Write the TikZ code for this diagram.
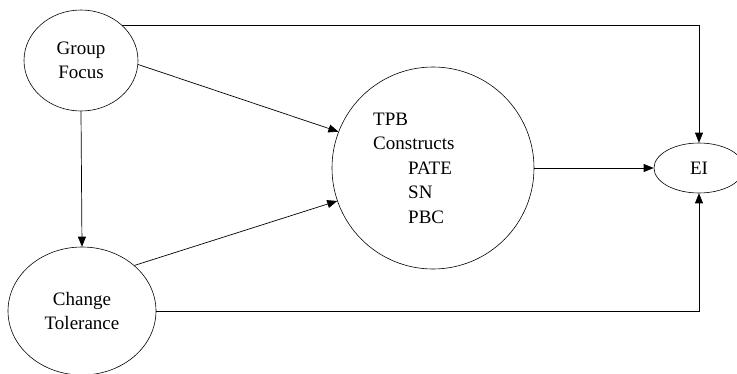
\documentclass[tikz,border=0pt]{standalone}
\usepackage{fontspec}
\setmainfont{Liberation Serif}
\usetikzlibrary{arrows.meta,shapes.geometric}

\tikzset{
  construct/.style={draw, ellipse, inner sep=0pt, line width=0.6pt,
    align=center, font=\fontsize{19}{24}\selectfont},
  link/.style={line width=0.7pt, -{Triangle[length=10pt,width=8pt]}},
  plain/.style={font=\fontsize{19}{24.5}\selectfont, inner sep=0pt}
}

\begin{document}
\begin{tikzpicture}[x=1pt, y=-1pt]
  \useasboundingbox (0,0) rectangle (737,373);

  % latent constructs
  \node[construct, minimum width=114pt, minimum height=101pt] (gf) at (81,60.5) {Group\\Focus};
  \node[construct, minimum width=148pt, minimum height=128pt] (ct) at (82,311) {Change\\Tolerance};
  \node[construct, minimum width=202pt, minimum height=202pt] (tpb) at (433,168) {};
  \node[construct, minimum width=90pt, minimum height=50pt] (ei) at (699,168) {EI};

  % contents of the TPB circle
  \node[plain, anchor=west, align=left] (tpbtext) at (373,168)
    {TPB\\Constructs\\\hspace*{35pt}PATE\\\hspace*{35pt}SN\\\hspace*{35pt}PBC};

  % paths
  \draw[link] (gf.-4.5) -- (tpb.159.3);
  \draw[link] (ct.41) -- (tpb.199.7);
  \draw[link] (gf.south) -- (ct.north);
  \draw[link] (tpb.east) -- (ei.west);
  \draw[link] (gf.41) -| (ei.north);
  \draw[link] (ct.east) -| (ei.south);
\end{tikzpicture}
\end{document}
